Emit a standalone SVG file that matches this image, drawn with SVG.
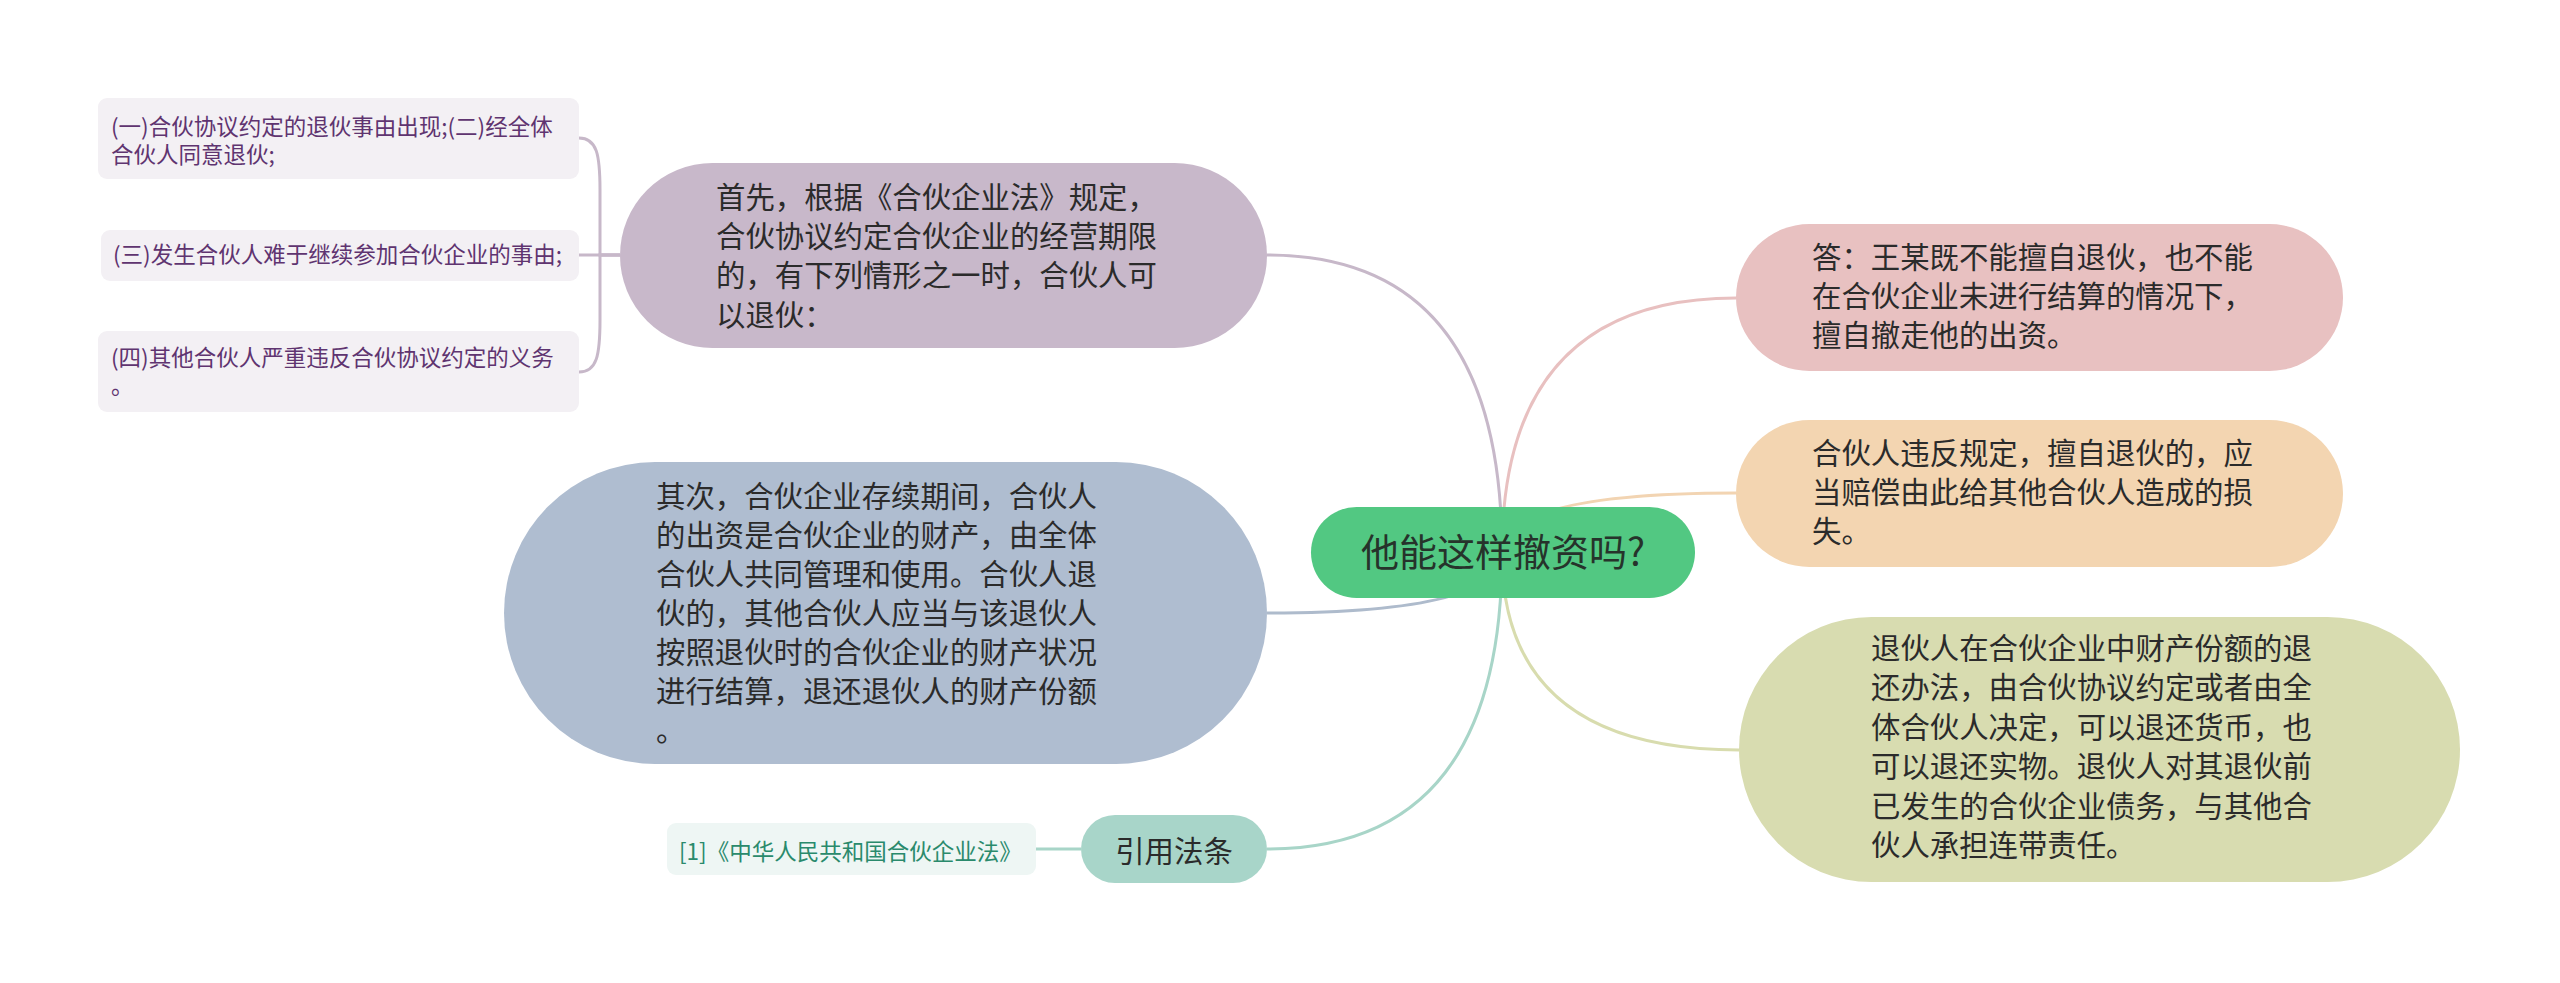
<svg xmlns="http://www.w3.org/2000/svg" width="2560" height="983" viewBox="0 0 2560 983">
<style>
text{font-family:"Noto Sans CJK SC","Noto Sans",sans-serif;}
.t{font-size:29.4px;fill:#2b2b2b;}
.leaf{font-size:22.5px;fill:#5f3470;}
.lb{fill:#f3f0f4;}
.c{fill:none;stroke-width:3;}
</style>
<rect width="2560" height="983" fill="#ffffff"/>
<g id="connectors">
<path class="c" stroke="#c7b8c9" d="M1502,553 Q1502,255 1267,255"/>
<path class="c" stroke="#aebbcc" d="M1502,553 Q1502,613 1267,613"/>
<path class="c" stroke="#a8d5c8" d="M1502,553 Q1502,849 1267,849"/>
<path class="c" stroke="#e8c0c0" d="M1502,553 Q1502,298 1736,298"/>
<path class="c" stroke="#f2d4b2" d="M1502,553 Q1502,493 1736,493"/>
<path class="c" stroke="#d8dcae" d="M1502,553 Q1502,750 1739,750"/>
<path class="c" stroke="#c7b8c9" d="M620,255 H600 V190 C600,155 597,138 579,138"/>
<path class="c" stroke="#c7b8c9" d="M620,255 H579"/>
<path class="c" stroke="#c7b8c9" d="M620,255 H600 V320 C600,355 597,372 579,372"/>
<path class="c" stroke="#a8d5c8" d="M1081,849 H1036"/>
</g>
<g id="center">
<rect x="1311" y="507" width="384" height="91" rx="45.5" fill="#52c882"/>
<text x="1503" y="566" font-size="38" fill="#26332b" text-anchor="middle">他能这样撤资吗?</text>
</g>
<g id="n-first">
<rect x="620" y="163" width="647" height="185" rx="92.5" fill="#c8b8ca"/>
<text class="t"><tspan x="716" y="208">首先，根据《合伙企业法》规定，</tspan><tspan x="716" y="247">合伙协议约定合伙企业的经营期限</tspan><tspan x="716" y="286">的，有下列情形之一时，合伙人可</tspan><tspan x="716" y="326">以退伙：</tspan></text>
</g>
<g id="leaf1">
<rect class="lb" x="98" y="98" width="481" height="81" rx="9"/>
<text class="leaf"><tspan x="111" y="135">(一)合伙协议约定的退伙事由出现;(二)经全体</tspan><tspan x="111" y="163">合伙人同意退伙;</tspan></text>
</g>
<g id="leaf2">
<rect class="lb" x="101" y="230" width="478" height="51" rx="9"/>
<text class="leaf" x="113" y="263">(三)发生合伙人难于继续参加合伙企业的事由;</text>
</g>
<g id="leaf3">
<rect class="lb" x="98" y="331" width="481" height="81" rx="9"/>
<text class="leaf"><tspan x="111" y="366">(四)其他合伙人严重违反合伙协议约定的义务</tspan><tspan x="111" y="394">。</tspan></text>
</g>
<g id="n-second">
<rect x="504" y="462" width="763" height="302" rx="151" fill="#afbdd0"/>
<text class="t"><tspan x="656" y="507">其次，合伙企业存续期间，合伙人</tspan><tspan x="656" y="546">的出资是合伙企业的财产，由全体</tspan><tspan x="656" y="585">合伙人共同管理和使用。合伙人退</tspan><tspan x="656" y="624">伙的，其他合伙人应当与该退伙人</tspan><tspan x="656" y="663">按照退伙时的合伙企业的财产状况</tspan><tspan x="656" y="702">进行结算，退还退伙人的财产份额</tspan><tspan x="656" y="741">。</tspan></text>
</g>
<g id="n-law">
<rect x="1081" y="815" width="186" height="68" rx="34" fill="#a8d5c9"/>
<text class="t" x="1174" y="862" text-anchor="middle">引用法条</text>
</g>
<g id="leaf-law">
<rect x="667" y="823" width="369" height="52" rx="9" fill="#eef6f4"/>
<text x="679" y="860" font-size="22.5" fill="#2a8a6c">[1]《中华人民共和国合伙企业法》</text>
</g>
<g id="n-answer">
<rect x="1736" y="224" width="607" height="147" rx="73.5" fill="#e8c1c1"/>
<text class="t"><tspan x="1812" y="268">答：王某既不能擅自退伙，也不能</tspan><tspan x="1812" y="307">在合伙企业未进行结算的情况下，</tspan><tspan x="1812" y="346">擅自撤走他的出资。</tspan></text>
</g>
<g id="n-violate">
<rect x="1736" y="420" width="607" height="147" rx="73.5" fill="#f3d5b1"/>
<text class="t"><tspan x="1812" y="464">合伙人违反规定，擅自退伙的，应</tspan><tspan x="1812" y="503">当赔偿由此给其他合伙人造成的损</tspan><tspan x="1812" y="542">失。</tspan></text>
</g>
<g id="n-refund">
<rect x="1739" y="617" width="721" height="265" rx="132.5" fill="#d8dcb0"/>
<text class="t"><tspan x="1871" y="659">退伙人在合伙企业中财产份额的退</tspan><tspan x="1871" y="698">还办法，由合伙协议约定或者由全</tspan><tspan x="1871" y="738">体合伙人决定，可以退还货币，也</tspan><tspan x="1871" y="777">可以退还实物。退伙人对其退伙前</tspan><tspan x="1871" y="817">已发生的合伙企业债务，与其他合</tspan><tspan x="1871" y="856">伙人承担连带责任。</tspan></text>
</g>
</svg>
